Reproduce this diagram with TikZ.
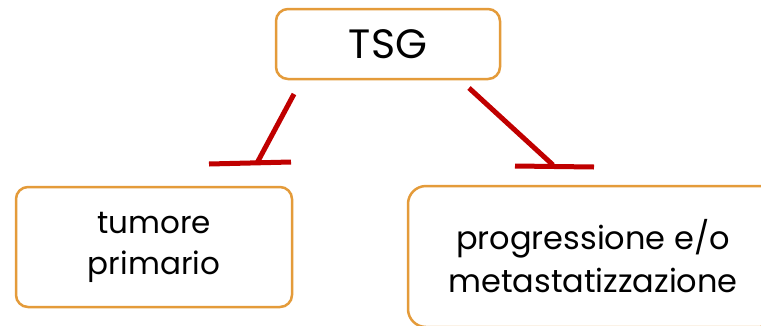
\documentclass[tikz,border=0pt]{standalone}
\usepackage{fontspec}
\setmainfont{Poppins}
\definecolor{boxorange}{HTML}{E49B3A}
\definecolor{inhred}{HTML}{C00000}
\begin{document}
\begin{tikzpicture}[x=1pt,y=-1pt,
  box/.style={draw=boxorange,line width=2.5pt,rounded corners=12pt,fill=white,align=center,inner sep=0pt},
  inh/.style={draw=inhred,line width=5pt}]
\useasboundingbox (0,0) rectangle (761,325);
\begin{scope}
\clip (0,0) rectangle (761,325);
\node[box,minimum width=224pt,minimum height=70pt,font=\fontsize{41}{46}\selectfont] (tsg) at (388,44) {TSG};
\node[box,minimum width=276pt,minimum height=120pt,font=\fontsize{31}{41}\selectfont] (tum) at (154,247) {tumore\\primario};
\node[box,rounded corners=18pt,minimum width=370pt,minimum height=141pt,font=\fontsize{32}{43}\selectfont] (prog) at (593,256.5) {progressione e/o\\metastatizzazione};
\end{scope}
\coordinate (l1) at (294,94);
\coordinate (l2) at (257,163);
\coordinate (lb1) at (209,164);
\coordinate (lb2) at (291,162);
\coordinate (r1) at (469,88);
\coordinate (r2) at (553,165);
\coordinate (rb1) at (515,166);
\coordinate (rb2) at (594,167);
\draw[inh] (l1) -- (l2);
\draw[inh] (lb1) -- (lb2);
\draw[inh] (r1) -- (r2);
\draw[inh] (rb1) -- (rb2);
\end{tikzpicture}
\end{document}
